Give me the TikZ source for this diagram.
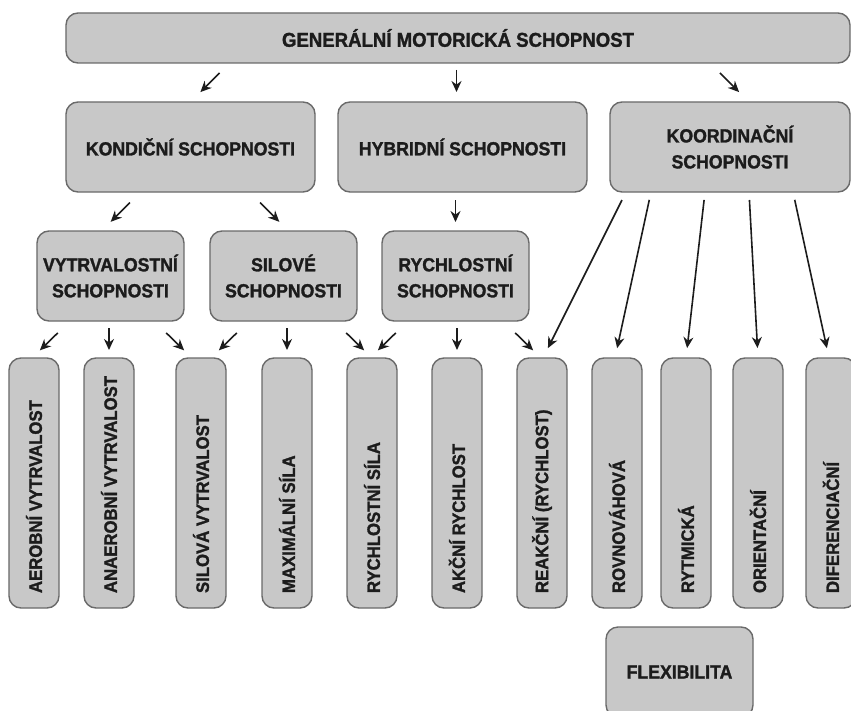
\documentclass[tikz,border=0pt]{standalone}
\usepackage{fontspec}
\setmainfont{Liberation Sans}
\newfontfamily\skillfont{Liberation Sans}[FakeStretch=0.93, BoldFeatures={FakeBold=1.5}]
\usepackage{graphicx}
\usepackage{tikz}
\usetikzlibrary{arrows.meta,calc,positioning}
\definecolor{boxfill}{HTML}{C8C8C8}
\definecolor{boxline}{HTML}{6A6A6A}
\definecolor{inkblack}{HTML}{1C1C1C}
\newcommand{\vlabel}[1]{\rotatebox{90}{\makebox[220bp][l]{#1}}}
\tikzset{
	skill/.style={draw=boxline, fill=boxfill, line width=1.4bp, rounded corners=12bp,
		text=inkblack, font=\skillfont\bfseries\fontsize{19bp}{26bp}\selectfont, align=center,
		inner sep=0pt, outer sep=0pt},
	skill wide/.style={skill, minimum width=#1, minimum height=90bp},
	skill tall/.style={skill, minimum width=50bp, minimum height=250bp, inner ysep=15bp,
		font=\skillfont\bfseries\fontsize{18bp}{20bp}\selectfont},
	ar/.style={-{Stealth[length=11bp,width=10bp]}, line width=1.6bp, draw=inkblack},
	gap/.style 2 args={shorten <=#1bp, shorten >=#2bp}
}

\begin{document}
\begin{tikzpicture}[x=1bp,y=1bp,node distance=23 and 23]
	\useasboundingbox (0,0) rectangle (851,-711);
	\node [skill, minimum width=784bp, minimum height=50bp, font=\skillfont\bfseries\fontsize{20bp}{26bp}\selectfont] (gms) at (458,-38) {GENERÁLNÍ MOTORICKÁ SCHOPNOST};
	\node [skill wide=249bp, below right=39 and 0 of gms.south west] (kond) {KONDIČNÍ SCHOPNOSTI};
	\node [skill wide=249bp, right=23 of kond] (hyb) {HYBRIDNÍ SCHOPNOSTI};
	\node [skill wide=240bp, right=23 of hyb] (koord) {KOORDINAČNÍ\\SCHOPNOSTI};
	\node [skill wide=147bp, below right=39 and -29 of kond.south west] (vytr) {VYTRVALOSTNÍ\\SCHOPNOSTI};
	\node [skill wide=147bp, right=26 of vytr] (sil) {SILOVÉ\\SCHOPNOSTI};
	\node [skill wide=147bp, right=25 of sil] (rych) {RYCHLOSTNÍ\\SCHOPNOSTI};
	\node [skill tall] (aer) at (34,-483) {\vlabel{AEROBNÍ VYTRVALOST}};
	\node [skill tall, right=25 of aer] (anaer) {\vlabel{ANAEROBNÍ VYTRVALOST}};
	\node [skill tall, right=42 of anaer] (silvytr) {\vlabel{SILOVÁ VYTRVALOST}};
	\node [skill tall, right=36 of silvytr] (maxs) {\vlabel{MAXIMÁLNÍ SÍLA}};
	\node [skill tall, right=35 of maxs] (rychs) {\vlabel{RYCHLOSTNÍ SÍLA}};
	\node [skill tall, right=35 of rychs] (akc) {\vlabel{AKČNÍ RYCHLOST}};
	\node [skill tall, right=35 of akc] (reak) {\vlabel{REAKČNÍ (RYCHLOST)}};
	\node [skill tall, right=25 of reak] (rovn) {\vlabel{ROVNOVÁHOVÁ}};
	\node [skill tall, right=19 of rovn] (rytm) {\vlabel{RYTMICKÁ}};
	\node [skill tall, right=22 of rytm] (orient) {\vlabel{ORIENTAČNÍ}};
	\node [skill tall, right=23 of orient] (difer) {\vlabel{DIFERENCIAČNÍ}};
	\node [skill wide=147bp, below right=19 and 14 of rovn.south west] (flex) {FLEXIBILITA};
	\draw [ar, gap={14}{14}] ([xshift=39bp]kond.north |- gms.south) -- (kond.north);
	\draw [ar, gap={7}{10}] ([xshift=-6bp]hyb.north |- gms.south) -- ([xshift=-6bp]hyb.north);
	\draw [ar, gap={14}{14}] ([xshift=-20bp]koord.north |- gms.south) -- ([xshift=19bp]koord.north);
	\draw [ar, gap={15}{13}] ([xshift=30bp]vytr.north |- kond.south) -- ([xshift=-9bp]vytr.north);
	\draw [ar, gap={15}{13}] ([xshift=-34bp]sil.north |- kond.south) -- ([xshift=5bp]sil.north);
	\draw [ar, gap={8}{9}] (rych.north |- hyb.south) -- (rych.north);
	\draw [ar, gap={17}{11}] ([xshift=36bp]aer.north |- vytr.south) -- ([xshift=-2bp]aer.north);
	\draw [ar, gap={7}{8}] (anaer.north |- vytr.south) -- (anaer.north);
	\draw [ar, gap={17}{11}] ([xshift=-47bp]silvytr.north |- vytr.south) -- ([xshift=-9bp]silvytr.north);
	\draw [ar, gap={17}{11}] ([xshift=48bp]silvytr.north |- sil.south) -- ([xshift=10bp]silvytr.north);
	\draw [ar, gap={7}{8}] (maxs.north |- sil.south) -- (maxs.north);
	\draw [ar, gap={17}{11}] ([xshift=-38bp]rychs.north |- sil.south) -- (rychs.north);
	\draw [ar, gap={17}{11}] ([xshift=36bp]rychs.north |- rych.south) -- ([xshift=-2bp]rychs.north);
	\draw [ar, gap={7}{8}] (akc.north |- rych.south) -- (akc.north);
	\draw [ar, gap={17}{11}] ([xshift=-39bp]reak.north |- rych.south) -- ([xshift=-1bp]reak.north);
	\draw [ar, gap={9}{11}] ([xshift=-104bp]koord.south) -- ([xshift=1bp]reak.north);
	\draw [ar, gap={8}{10}] ([xshift=-79bp]koord.south) -- ([xshift=-2bp]rovn.north);
	\draw [ar, gap={8}{10}] ([xshift=-25bp]koord.south) -- (rytm.north);
	\draw [ar, gap={8}{10}] ([xshift=19bp]koord.south) -- (orient.north);
	\draw [ar, gap={8}{10}] ([xshift=63bp]koord.south) -- ([xshift=-2bp]difer.north);
\end{tikzpicture}
\end{document}
